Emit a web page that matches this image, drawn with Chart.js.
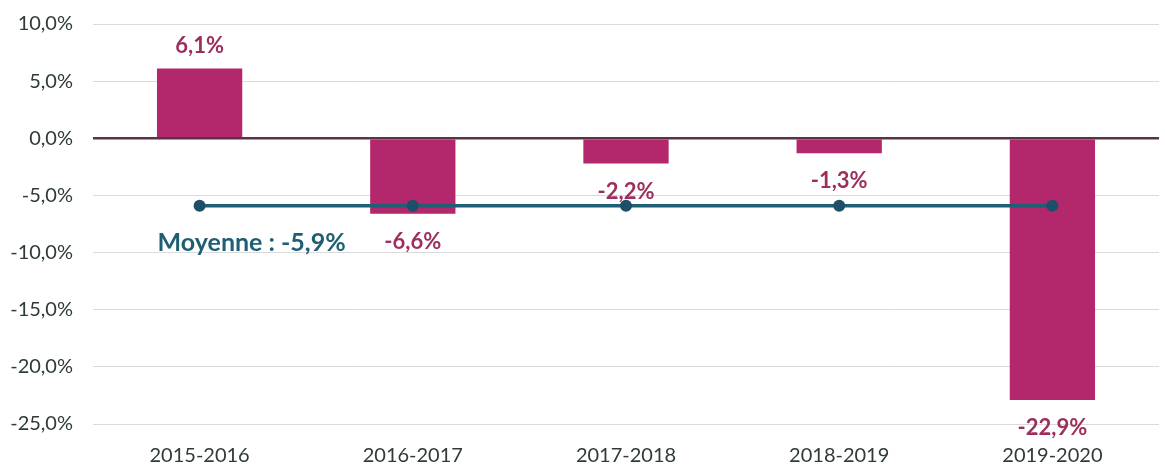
<!DOCTYPE html>
<html>
<head>
<meta charset="utf-8">
<script src="https://cdn.jsdelivr.net/npm/chart.js@4/dist/chart.umd.min.js"></script>
<style>
html,body{margin:0;padding:0;background:#fff;}
#wrap{width:1165px;height:464px;position:relative;}
</style>
</head>
<body>
<div id="wrap"><canvas id="c" width="1165" height="464"></canvas></div>
<script>
const categories = ['2015-2016','2016-2017','2017-2018','2018-2019','2019-2020'];
const evolution = [6.1, -6.6, -2.2, -1.3, -22.9];
const moyenne = [-5.9, -5.9, -5.9, -5.9, -5.9];
const moyenneLabel = 'Moyenne : -5,9%';
const yTicks = [10, 5, 0, -5, -10, -15, -20, -25];

const FONT = 'Lato, "Open Sans", sans-serif';
const fmt = v => v.toFixed(1).replace('.', ',') + '%';

const labelPlugin = {
  id: 'labels',
  afterDatasetsDraw(chart) {
    const ctx = chart.ctx;
    const barMeta = chart.getDatasetMeta(0);
    ctx.save();
    ctx.font = 'bold 22px ' + FONT;
    ctx.fillStyle = '#9C2F5E';
    ctx.textAlign = 'center';
    ctx.textBaseline = 'middle';
    barMeta.data.forEach((bar, i) => {
      const v = evolution[i];
      const y = v >= 0 ? bar.y - 23 : bar.y + 28;
      ctx.fillText(fmt(v), bar.x, y);
    });
    const lineMeta = chart.getDatasetMeta(1);
    const p = lineMeta.data[0];
    ctx.font = 'bold 25px ' + FONT;
    ctx.fillStyle = '#1E5F74';
    ctx.textAlign = 'left';
    ctx.fillText(moyenneLabel, p.x - 42, p.y + 37);
    ctx.restore();
  }
};

new Chart(document.getElementById('c'), {
  data: {
    labels: categories,
    datasets: [
      {
        type: 'bar',
        data: evolution,
        backgroundColor: '#B3276C',
        barPercentage: 1,
        categoryPercentage: 0.4,
        order: 2
      },
      {
        type: 'line',
        data: moyenne,
        borderColor: '#1E5F74',
        borderWidth: 3.5,
        pointRadius: 6,
        pointBackgroundColor: '#1E4F68',
        pointBorderColor: '#1E4F68',
        pointBorderWidth: 0,
        order: 1
      }
    ]
  },
  options: {
    responsive: false,
    animation: false,
    layout: { padding: { top: 24, right: 2, left: 0, bottom: 0 } },
    plugins: { legend: { display: false }, tooltip: { enabled: false } },
    scales: {
      x: {
        grid: { display: false, drawTicks: false },
        border: { display: false },
        ticks: { font: { family: FONT, size: 20 }, color: '#2E3B36', padding: 20 },
        afterFit(s) { s.height = 40; s.paddingLeft = 0; s.paddingRight = 0; }
      },
      y: {
        min: -25, max: 10,
        afterBuildTicks(s) { s.ticks = yTicks.map(v => ({ value: v })); },
        grid: {
          drawTicks: false,
          color: ctx => ctx.tick && ctx.tick.value === 0 ? '#5A3344' : '#DADADA',
          lineWidth: ctx => ctx.tick && ctx.tick.value === 0 ? 2.5 : 1
        },
        border: { display: false },
        ticks: {
          font: { family: FONT, size: 20 },
          color: '#2E3B36',
          padding: 20,
          callback: v => fmt(v)
        },
        afterFit(s) { s.width = 93; s.paddingTop = 0; s.paddingBottom = 0; }
      }
    }
  },
  plugins: [labelPlugin]
});
</script>
</body>
</html>
